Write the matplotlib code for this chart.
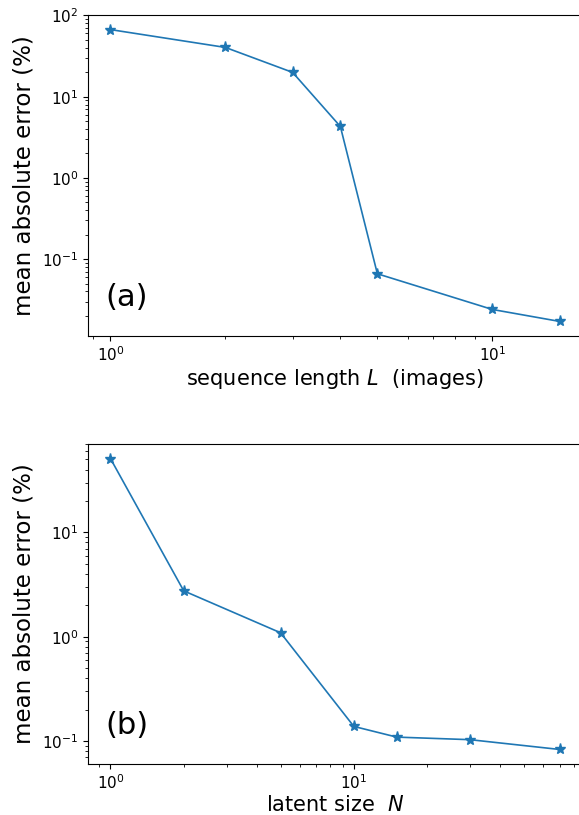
import numpy as np
import matplotlib
matplotlib.use("Agg")
import matplotlib.pyplot as plt

# (a) error vs sequence length
seq_len = [1, 2, 3, 4, 5, 10, 15]
seq_err = [67.0, 40.4, 19.9, 4.3, 0.066, 0.024, 0.0171]

# (b) error vs latent size
latent = [1, 2, 5, 10, 15, 30, 70]
latent_err = [51.0, 2.75, 1.09, 0.138, 0.109, 0.103, 0.083]

W, H = 579, 815
fig = plt.figure(figsize=(W / 100, H / 100), dpi=100)

# axes run slightly past the right edge (original was cropped there)
ax_a = fig.add_axes([88 / W, 1 - 336 / H, 494 / W, 321 / H])
ax_b = fig.add_axes([88 / W, 1 - 764 / H, 494 / W, 320 / H])

panels = [
    (ax_a, seq_len, seq_err, r"sequence length $L$  (images)", "(a)"),
    (ax_b, latent, latent_err, r"latent size  $N$", "(b)"),
]

for ax, x, y, xlab, tag in panels:
    ax.plot(x, y, marker="*", color="tab:blue", lw=1.2, ms=8)
    ax.set_xscale("log")
    ax.set_yscale("log")
    ax.set_xlabel(xlab, fontsize=15, labelpad=2)
    ax.set_ylabel("mean absolute error (%)", fontsize=16.5, labelpad=5)
    ax.tick_params(labelsize=11)
    ax.text(0.035, 0.12, tag, transform=ax.transAxes, fontsize=22,
            ha="left", va="center")

fig.savefig("out.png", dpi=100)
